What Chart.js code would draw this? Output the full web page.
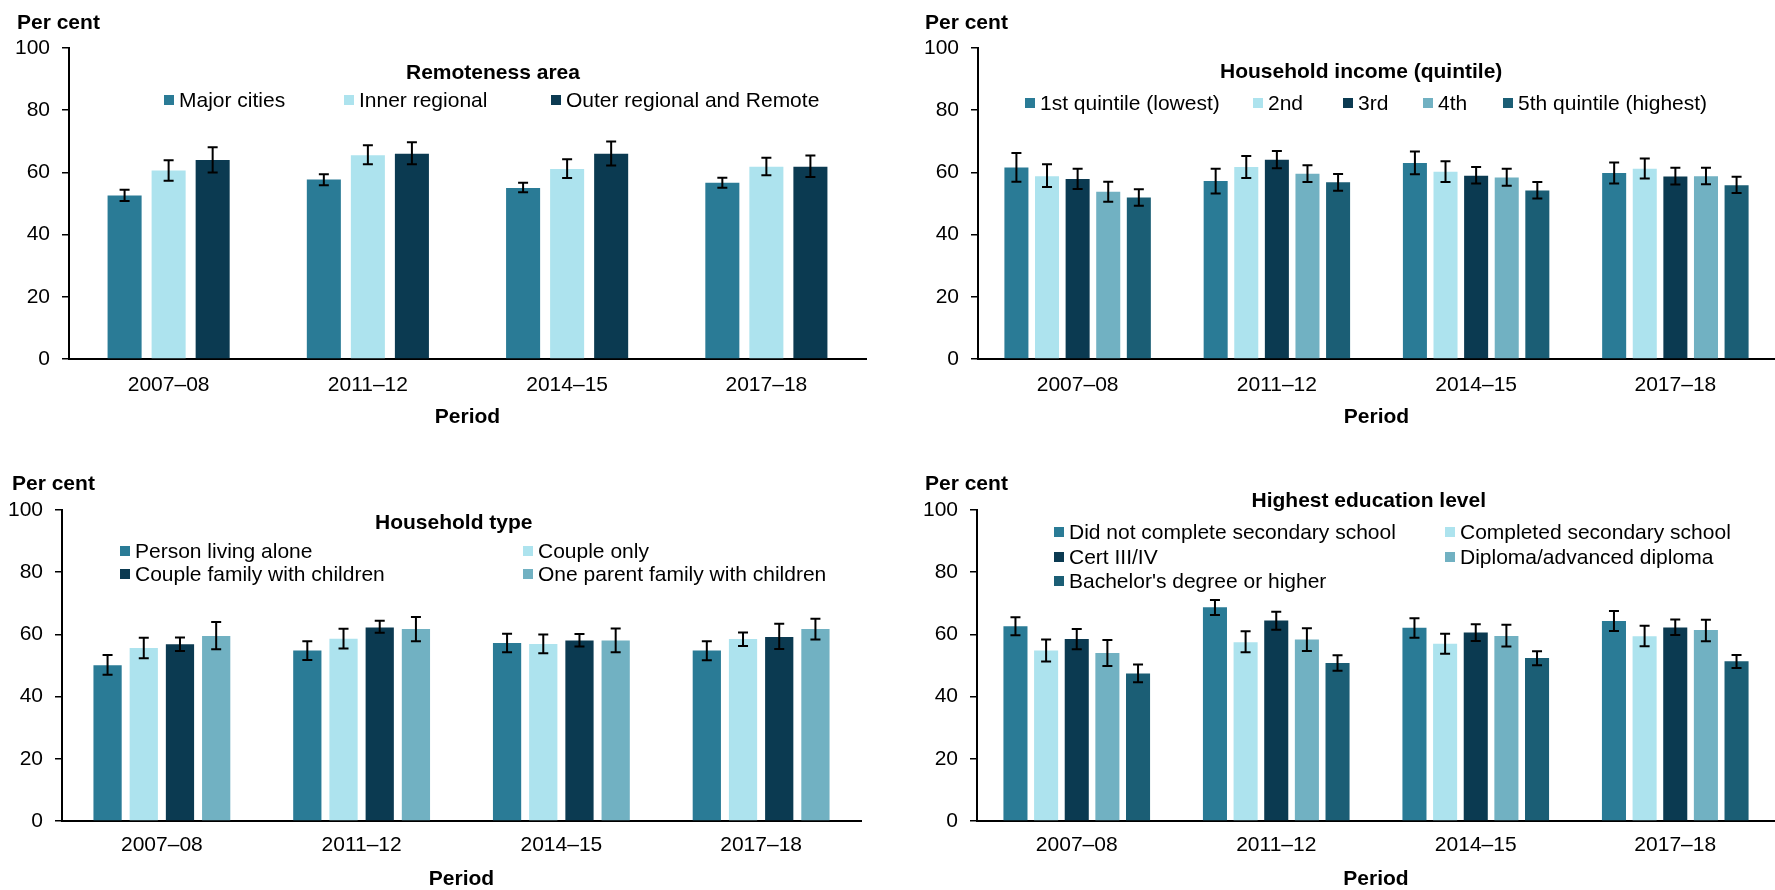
<!DOCTYPE html>
<html>
<head>
<meta charset="utf-8">
<script src="https://cdn.jsdelivr.net/npm/chart.js@4/dist/chart.umd.min.js"></script>
<style>
  html, body { margin: 0; padding: 0; background: #fff; }
  body { width: 1775px; height: 890px; position: relative; overflow: hidden;
         font-family: Arial, "Liberation Sans", sans-serif; color: #000; }
  canvas { position: absolute; }
  .txt { position: absolute; font-size: 21px; line-height: 24px; white-space: nowrap; }
  .bold { font-weight: bold; }
  .key { position: absolute; width: 10px; height: 10px; }
</style>
</head>
<body>
<canvas id="c1"></canvas>
<canvas id="c2"></canvas>
<canvas id="c3"></canvas>
<canvas id="c4"></canvas>
<script>
const periods = ['2007–08', '2011–12', '2014–15', '2017–18'];
const yTicks = [0, 20, 40, 60, 80, 100];

// Remoteness area
const remoteLabels = ['Major cities', 'Inner regional', 'Outer regional and Remote'];
const remoteValues = [[52.6, 57.7, 55.0, 56.7], [60.6, 65.5, 61.1, 61.8], [64.0, 66.0, 66.0, 61.8]];
const remoteLow = [[50.8, 55.9, 53.6, 55.1], [57.3, 62.6, 58.2, 59.1], [60.0, 62.6, 62.2, 58.5]];
const remoteHigh = [[54.4, 59.4, 56.7, 58.3], [63.9, 68.7, 64.2, 64.7], [68.1, 69.7, 69.9, 65.4]];

// Household income (quintile)
const incomeLabels = ['1st quintile (lowest)', '2nd', '3rd', '4th', '5th quintile (highest)'];
const incomeValues = [[61.6, 57.2, 63.0, 59.8], [58.8, 61.7, 60.2, 61.2], [57.9, 64.1, 58.9, 58.7], [53.8, 59.6, 58.4, 58.8], [51.9, 56.8, 54.2, 55.9]];
const incomeLow = [[57.0, 53.2, 59.4, 56.4], [55.3, 58.2, 56.9, 58.0], [54.7, 61.3, 56.4, 56.1], [50.6, 56.9, 55.7, 56.2], [49.3, 54.1, 51.6, 53.4]];
const incomeHigh = [[66.2, 61.2, 66.7, 63.2], [62.6, 65.3, 63.6, 64.5], [61.2, 66.9, 61.7, 61.5], [57.0, 62.3, 61.2, 61.5], [54.6, 59.5, 56.9, 58.6]];

// Household type
const typeLabels = ['Person living alone', 'Couple only', 'Couple family with children', 'One parent family with children'];
const typeValues = [[50.1, 54.8, 57.2, 54.8], [55.6, 58.6, 56.9, 58.5], [56.8, 62.2, 58.0, 59.2], [59.5, 61.7, 58.0, 61.7]];
const typeLow = [[47.0, 51.8, 54.3, 51.7], [52.3, 55.5, 53.9, 56.3], [54.7, 60.5, 56.1, 55.3], [55.2, 57.8, 54.3, 58.4]];
const typeHigh = [[53.4, 57.8, 60.2, 57.8], [58.9, 61.8, 60.0, 60.6], [59.0, 64.4, 60.1, 63.4], [64.0, 65.6, 61.9, 65.0]];

// Highest education level
const eduLabels = ['Did not complete secondary school', 'Completed secondary school', 'Cert III/IV', 'Diploma/advanced diploma', "Bachelor's degree or higher"];
const eduValues = [[62.6, 68.7, 62.1, 64.3], [54.8, 57.5, 57.0, 59.4], [58.5, 64.5, 60.6, 62.2], [54.0, 58.4, 59.5, 61.4], [47.4, 50.8, 52.4, 51.4]];
const eduLow = [[59.7, 66.2, 58.9, 61.1], [51.3, 54.3, 53.8, 56.2], [55.2, 61.5, 57.9, 59.8], [49.8, 54.7, 56.1, 57.8], [44.6, 48.3, 50.1, 49.2]];
const eduHigh = [[65.5, 71.1, 65.2, 67.5], [58.4, 61.0, 60.2, 62.8], [61.7, 67.3, 63.3, 64.8], [58.2, 62.0, 63.1, 64.7], [50.3, 53.3, 54.6, 53.4]];

const palette = ['#2a7b96', '#ade3ee', '#0b3a51', '#71b1c2', '#1b5e75'];
const typePalette = ['#2a7b96', '#ade3ee', '#0b3a51', '#71b1c2'];
const FONT = 'Arial, "Liberation Sans", sans-serif';

// draws the confidence intervals on top of each bar
const errorBars = {
  id: 'errorBars',
  afterDatasetsDraw(chart) {
    const ctx = chart.ctx;
    const y = chart.scales.y;
    ctx.save();
    ctx.strokeStyle = '#000';
    ctx.lineWidth = 2;
    chart.data.datasets.forEach((ds, i) => {
      const meta = chart.getDatasetMeta(i);
      meta.data.forEach((bar, j) => {
        const top = y.getPixelForValue(ds.high[j]);
        const bot = y.getPixelForValue(ds.low[j]);
        ctx.beginPath();
        ctx.moveTo(bar.x, top); ctx.lineTo(bar.x, bot);
        ctx.moveTo(bar.x - 5, top); ctx.lineTo(bar.x + 5, top);
        ctx.moveTo(bar.x - 5, bot); ctx.lineTo(bar.x + 5, bot);
        ctx.stroke();
      });
    });
    ctx.restore();
  }
};

function makePanel(id, box, area, labels, values, low, high, colors, bars) {
  const el = document.getElementById(id);
  el.width = box.w; el.height = box.h;
  el.style.left = box.x + 'px'; el.style.top = box.y + 'px';
  new Chart(el, {
    type: 'bar',
    plugins: [errorBars],
    data: {
      labels: periods,
      datasets: labels.map((name, i) => ({
        label: name,
        data: values[i],
        low: low[i],
        high: high[i],
        backgroundColor: colors[i],
        borderWidth: 0,
        categoryPercentage: bars.cat,
        barPercentage: bars.bar,
      })),
    },
    options: {
      responsive: false,
      animation: false,
      devicePixelRatio: 1,
      layout: { padding: { left: 0, top: area.top, right: area.right, bottom: 0 } },
      plugins: { legend: { display: false }, tooltip: { enabled: false } },
      scales: {
        x: {
          grid: { display: false, drawTicks: false },
          border: { color: '#000', width: 2 },
          ticks: { color: '#000', padding: area.tickPad, font: { family: FONT, size: 21, lineHeight: 1.2 } },
          title: { display: true, text: 'Period', color: '#000', padding: { top: 0, bottom: area.titlePad },
                   font: { family: FONT, size: 21, weight: 'bold', lineHeight: 1 } },
          afterFit(scale) { scale.height = area.xh; },
        },
        y: {
          min: 0, max: 100,
          afterBuildTicks(scale) { scale.ticks = yTicks.map(v => ({ value: v })); },
          grid: { drawOnChartArea: false, drawTicks: true, tickLength: 7, color: '#000', lineWidth: 1.5 },
          border: { color: '#000', width: 2 },
          ticks: { color: '#000', padding: 12, font: { family: FONT, size: 21 } },
          afterFit(scale) { scale.width = area.left; },
        },
      },
    },
  });
}

function addText(text, x, y, cls, center) {
  const d = document.createElement('div');
  d.className = 'txt ' + (cls || '');
  d.textContent = text;
  d.style.top = (y - 12) + 'px';
  document.body.appendChild(d);
  if (center) d.style.left = (x - d.offsetWidth / 2) + 'px';
  else d.style.left = x + 'px';
}

function addLegend(title, tx, ty, labels, colors, spots) {
  addText(title, tx, ty, 'bold', true);
  labels.forEach((name, i) => {
    const k = document.createElement('div');
    k.className = 'key';
    k.style.background = colors[i];
    k.style.left = spots[i][0] + 'px';
    k.style.top = (spots[i][1] - 5) + 'px';
    document.body.appendChild(k);
    addText(name, spots[i][0] + 15, spots[i][1]);
  });
}

makePanel('c1', { x: 0, y: 0, w: 887, h: 445 },
  { left: 69, top: 48, right: 21, xh: 86, tickPad: 14, titlePad: 17 },
  remoteLabels, remoteValues, remoteLow, remoteHigh, palette, { cat: 0.663, bar: 0.773 });
makePanel('c2', { x: 887, y: 0, w: 888, h: 445 },
  { left: 91, top: 48, right: 0, xh: 86, tickPad: 14, titlePad: 17 },
  incomeLabels, incomeValues, incomeLow, incomeHigh, palette, { cat: 0.768, bar: 0.785 });
makePanel('c3', { x: 0, y: 445, w: 887, h: 445 },
  { left: 62, top: 65, right: 26, xh: 69, tickPad: 12, titlePad: 0 },
  typeLabels, typeValues, typeLow, typeHigh, typePalette, { cat: 0.725, bar: 0.78 });
makePanel('c4', { x: 887, y: 445, w: 888, h: 445 },
  { left: 90, top: 65, right: 0, xh: 69, tickPad: 12, titlePad: 0 },
  eduLabels, eduValues, eduLow, eduHigh, palette, { cat: 0.768, bar: 0.785 });

addText('Per cent', 17, 22, 'bold');
addText('Per cent', 925, 22, 'bold');
addText('Per cent', 12, 483, 'bold');
addText('Per cent', 925, 483, 'bold');

addLegend('Remoteness area', 493, 72, remoteLabels, palette,
  [[164, 100], [344, 100], [551, 100]]);
addLegend('Household income (quintile)', 1361, 71, incomeLabels, palette,
  [[1025, 103], [1253, 103], [1343, 103], [1423, 103], [1503, 103]]);
addLegend('Household type', 454, 522, typeLabels, typePalette,
  [[120, 551], [523, 551], [120, 574], [523, 574]]);
addLegend('Highest education level', 1369, 500, eduLabels, palette,
  [[1054, 532], [1445, 532], [1054, 557], [1445, 557], [1054, 581]]);
</script>
</body>
</html>
